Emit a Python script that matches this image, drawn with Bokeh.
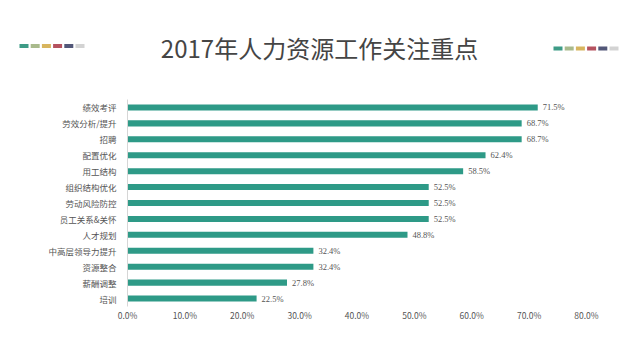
from bokeh.plotting import figure
from bokeh.layouts import column
from bokeh.models import (FactorRange, FixedTicker, NumeralTickFormatter,
                          ColumnDataSource, LabelSet)
from bokeh.core.properties import value
from bokeh.embed import file_html
from bokeh.resources import INLINE

categories = ["绩效考评", "劳效分析/提升", "招聘", "配置优化", "用工结构", "组织结构优化",
              "劳动风险防控", "员工关系&关怀", "人才规划", "中高层领导力提升", "资源整合",
              "薪酬调整", "培训"]
values = [71.5, 68.7, 68.7, 62.4, 58.5, 52.5, 52.5, 52.5, 48.8, 32.4, 32.4, 27.8, 22.5]
x_ticks = [0.0, 0.1, 0.2, 0.3, 0.4, 0.5, 0.6, 0.7, 0.8]
title_text = "2017年人力资源工作关注重点"
deco_colors = ["#3d9b86", "#a9ba8c", "#d8b55e", "#b5525f", "#525778", "#d3d3d3"]

FONT = "Noto Sans CJK SC"
W, H = 624, 344
HEAD = 80
FL, FR, FT, FB = 127, 586, 99, 306  # frame edges in full-page pixels

# ---- header (title + decorative squares), pixel coordinates ----
hd = figure(width=W, height=HEAD, output_backend="svg", toolbar_location=None,
            x_range=(0, W), y_range=(HEAD, 0), min_border=0,
            x_axis_location=None, y_axis_location=None)
hd.frame_align = False
hd.outline_line_color = None
hd.xgrid.grid_line_color = None
hd.ygrid.grid_line_color = None
hd.text(x=[319], y=[47], text=[title_text], text_font=value(FONT),
        text_font_size="24px", text_color="#454545", text_align="center",
        text_baseline="middle")
lefts, rights, tops, bottoms, cols = [], [], [], [], []
for start, yc in ((19, 45.5), (553, 48)):
    for i, c in enumerate(deco_colors):
        l = start + i * 11.2
        lefts.append(l); rights.append(l + 9)
        tops.append(yc - 2); bottoms.append(yc + 2); cols.append(c)
hd.quad(left=lefts, right=rights, top=tops, bottom=bottoms, color=cols, line_color=None)

# ---- main chart ----
frac = [v / 100 for v in values]
src = ColumnDataSource(dict(cat=categories, val=frac,
                            lbl=[f"{v:.1f}%" for v in values]))

p = figure(width=W, height=H - HEAD, output_backend="svg", toolbar_location=None,
           y_range=FactorRange(*reversed(categories), range_padding=0),
           x_range=(0, 0.8),
           min_border_left=FL, min_border_right=W - FR, min_border_top=FT - HEAD,
           min_border_bottom=H - FB)
p.frame_align = False
p.outline_line_color = None
p.background_fill_color = "white"
p.border_fill_color = "white"

p.hbar(y="cat", right="val", left=0, height=0.38, source=src,
       color="#2e9a87", line_color=None)

p.add_layout(LabelSet(x="val", y="cat", text="lbl", source=src, x_offset=5,
                      text_font=FONT, text_font_size="8.5px", text_color="#555555",
                      text_baseline="middle", text_align="left"))

p.xgrid.grid_line_color = None
p.ygrid.grid_line_color = None

p.xaxis.ticker = FixedTicker(ticks=x_ticks)
p.xaxis.formatter = NumeralTickFormatter(format="0.0%")
p.xaxis.axis_line_color = None
p.xaxis.major_tick_line_color = None
p.xaxis.minor_tick_line_color = None
p.xaxis.major_tick_out = 0
p.xaxis.major_label_text_font = FONT
p.xaxis.major_label_text_font_size = "8.5px"
p.xaxis.major_label_text_color = "#555555"
p.xaxis.major_label_standoff = 2

p.yaxis.axis_line_color = "#d6d6d6"
p.yaxis.major_tick_line_color = None
p.yaxis.minor_tick_line_color = None
p.yaxis.major_label_text_font = FONT
p.yaxis.major_label_text_font_size = "8.5px"
p.yaxis.major_label_text_color = "#555555"
p.yaxis.major_label_standoff = 5

layout = column(hd, p, spacing=0)
open("out.html", "w").write(file_html(layout, INLINE))
